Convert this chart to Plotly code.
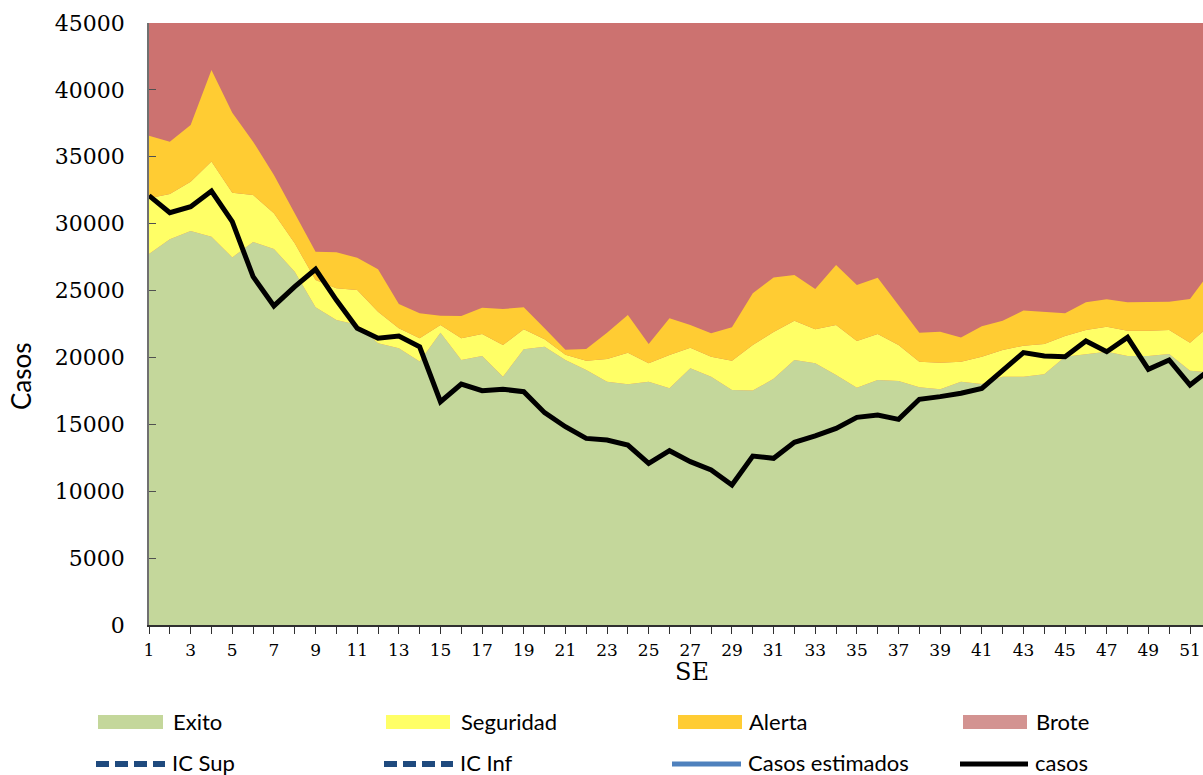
import plotly.graph_objects as go

# ---- data ----
weeks = [1, 2, 3, 4, 5, 6, 7, 8, 9, 10, 11, 12, 13, 14, 15, 16, 17, 18, 19, 20,
         21, 22, 23, 24, 25, 26, 27, 28, 29, 30, 31, 32, 33, 34, 35, 36, 37, 38, 39, 40,
         41, 42, 43, 44, 45, 46, 47, 48, 49, 50, 51, 52]

exito = [27730, 28830, 29450, 29030, 27480, 28630, 28110, 26410, 23750, 22800,
         22450, 21060, 20680, 19700, 21850, 19810, 20110, 18560, 20610, 20800,
         19800, 19060, 18190, 17990, 18190, 17690, 19190, 18560, 17570, 17520,
         18400, 19810, 19560, 18690, 17740, 18310, 18240, 17770, 17620, 18190,
         18010, 18560, 18560, 18740, 20060, 20260, 20430, 20110, 20110, 20260,
         19000, 18900]

seguridad = [31900, 32220, 33140, 34640, 32320, 32140, 30770, 28530, 25790, 25170,
             25040, 23420, 22180, 21430, 22430, 21430, 21750, 20930, 22100, 21360,
             20200, 19760, 19880, 20360, 19560, 20180, 20730, 20060, 19760, 20930,
             21900, 22750, 22100, 22430, 21230, 21750, 20930, 19680, 19610, 19680,
             20060, 20560, 20880, 21000, 21600, 22050, 22300, 22000, 22000, 22050,
             21100, 22440]

alerta = [36580, 36130, 37380, 41490, 38300, 36130, 33640, 30770, 27910, 27860,
          27450, 26590, 23990, 23300, 23120, 23100, 23720, 23620, 23750, 22180,
          20580, 20630, 21850, 23170, 21000, 22930, 22430, 21800, 22250, 24790,
          25970, 26160, 25120, 26910, 25410, 25960, 23920, 21850, 21930, 21500,
          22330, 22750, 23500, 23420, 23300, 24120, 24350, 24120, 24120, 24170,
          24370, 26450]

casos = [32100, 30820, 31270, 32440, 30150, 26040, 23850, 25290, 26590, 24290,
         22190, 21430, 21600, 20800, 16690, 18010, 17520, 17620, 17440, 15870,
         14820, 13950, 13830, 13450, 12080, 13030, 12210, 11590, 10460, 12630,
         12460, 13660, 14130, 14700, 15520, 15700, 15370, 16870, 17070, 17320,
         17690, 19060, 20360, 20110, 20060, 21230, 20430, 21500, 19110, 19810,
         17940, 19150]

legend_row1 = ["Exito", "Seguridad", "Alerta", "Brote"]
legend_row2 = ["IC Sup", "IC Inf", "Casos estimados", "casos"]

# ---- styles ----
C_EXITO = "#C4D79B"
C_SEG = "#FFFF66"
C_ALERTA = "#FFCC33"
C_BROTE = "#CC7270"
C_BROTE_LEG = "#D39391"
C_IC = "#1F4A7E"
C_EST = "#4F81BD"

W, H = 1203, 775
L, R, T, B = 149, 0, 23, 150
PW = W - L - R
PH = H - T - B


def px(x):
    return (x - L) / PW


def py(y):
    return (H - B - y) / PH


fig = go.Figure()
fig.add_trace(go.Scatter(x=weeks, y=exito, mode="lines", line=dict(width=0),
                         fill="tozeroy", fillcolor=C_EXITO, name="Exito",
                         hoverinfo="skip"))
fig.add_trace(go.Scatter(x=weeks, y=seguridad, mode="lines", line=dict(width=0),
                         fill="tonexty", fillcolor=C_SEG, name="Seguridad",
                         hoverinfo="skip"))
fig.add_trace(go.Scatter(x=weeks, y=alerta, mode="lines", line=dict(width=0),
                         fill="tonexty", fillcolor=C_ALERTA, name="Alerta",
                         hoverinfo="skip"))
fig.add_trace(go.Scatter(x=weeks, y=casos, mode="lines",
                         line=dict(width=5, color="black"), name="casos"))

axis_font = dict(family="DejaVu Serif", color="black")

fig.update_layout(
    width=W, height=H,
    margin=dict(l=L, r=R, t=T, b=B, pad=0),
    paper_bgcolor="white",
    plot_bgcolor=C_BROTE,
    showlegend=False,
    xaxis=dict(range=[1, 1 + PW / 20.82], tickmode="linear", tick0=1, dtick=2,
               ticks="outside", ticklen=7, tickwidth=1.3, tickcolor="#303030",
               showline=True, linecolor="#303030", linewidth=1.5,
               showgrid=False, zeroline=False, ticklabelstandoff=2,
               tickfont=dict(size=17, **axis_font),
               minor=dict(tick0=1, dtick=1, ticks="outside", ticklen=7,
                          tickwidth=1.3, tickcolor="#303030", showgrid=False)),
    yaxis=dict(range=[0, 45000], tickmode="linear", tick0=0, dtick=5000,
               tickformat="d",
               ticks="inside", ticklen=7, tickwidth=1.3, tickcolor="#505050",
               showline=True, linecolor="#707070", linewidth=1.5,
               showgrid=False, zeroline=False, ticklabelstandoff=18,
               tickfont=dict(size=22, **axis_font)),
)

annotations = [
    dict(text="SE", x=px(692), y=py(672), xref="paper", yref="paper",
         showarrow=False, font=dict(size=24, **axis_font),
         xanchor="center", yanchor="middle"),
    dict(text="Casos", x=px(21), y=py(376), xref="paper", yref="paper",
         showarrow=False, textangle=-90, font=dict(family="Lato", size=26, color="black"),
         xanchor="center", yanchor="middle"),
]

shapes = []
# legend row 1: filled swatches
row1_sw = [(98, 163), (386, 450), (678, 742), (963, 1027)]
row1_tx = [171, 459, 747, 1034]
row1_col = [C_EXITO, C_SEG, C_ALERTA, C_BROTE_LEG]
for (x0, x1), tx, col, lab in zip(row1_sw, row1_tx, row1_col, legend_row1):
    shapes.append(dict(type="rect", xref="paper", yref="paper",
                       x0=px(x0), x1=px(x1), y0=py(729), y1=py(715),
                       fillcolor=col, line=dict(width=0), layer="above"))
    annotations.append(dict(text=lab, x=px(tx), y=py(721), xref="paper", yref="paper",
                            showarrow=False, xanchor="left", yanchor="middle",
                            font=dict(family="Lato", size=22, color="black")))

# legend row 2: lines
row2_ln = [(96, 165), (384, 453), (672, 741), (960, 1028)]
row2_tx = [170, 458, 746, 1033]
row2_style = [dict(color=C_IC, width=6, dash="13px,6px"),
              dict(color=C_IC, width=6, dash="13px,6px"),
              dict(color=C_EST, width=5),
              dict(color="black", width=5)]
for (x0, x1), tx, st, lab in zip(row2_ln, row2_tx, row2_style, legend_row2):
    shapes.append(dict(type="line", xref="paper", yref="paper",
                       x0=px(x0), x1=px(x1), y0=py(764), y1=py(764),
                       line=st, layer="above"))
    annotations.append(dict(text=lab, x=px(tx), y=py(762), xref="paper", yref="paper",
                            showarrow=False, xanchor="left", yanchor="middle",
                            font=dict(family="Lato", size=22, color="black")))

fig.update_layout(annotations=annotations, shapes=shapes)

fig.write_html("out.html",
               config={"displayModeBar": False},
               post_script="document.body.style.margin='0';document.body.style.overflow='hidden';")
